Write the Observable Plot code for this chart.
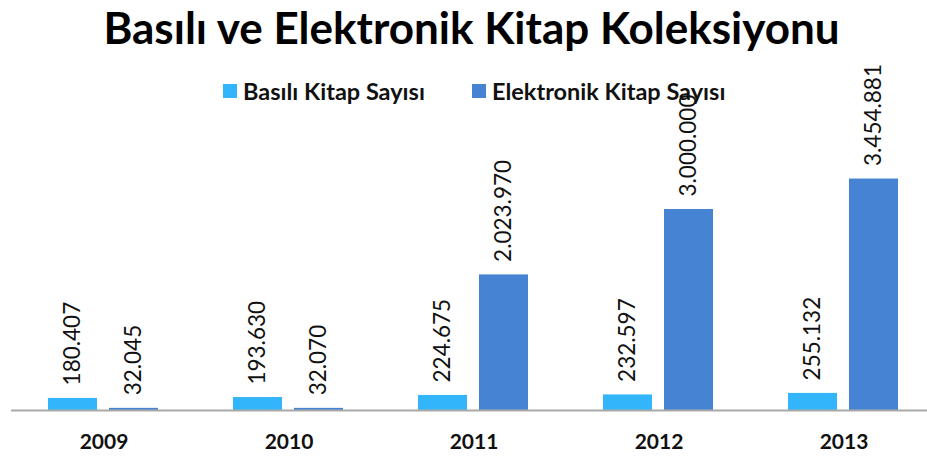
<!DOCTYPE html>
<html>
<head>
<meta charset="utf-8">
<script src="https://cdn.jsdelivr.net/npm/d3@7"></script>
<script src="https://cdn.jsdelivr.net/npm/@observablehq/plot@0.6"></script>
<style>
  html, body { margin: 0; padding: 0; background: #fff; }
  #wrap { position: relative; width: 927px; height: 461px; overflow: hidden; font-family: Lato, "Open Sans", sans-serif; }
  #title { position: absolute; left: 0; top: 3px; width: 927px; text-align: center; padding-left: 16px; box-sizing: border-box;
           font-size: 44px; font-weight: 700; color: #000; line-height: 48px; }
  #chart { position: absolute; left: 0; top: 58px; }
  #legend { position: absolute; left: 0; top: 78px; width: 927px; height: 26px; font-size: 23.5px; font-weight: 700; color: #111; }
  .item { position: absolute; top: 0; display: flex; align-items: center; height: 26px; }
  .sw { width: 14px; height: 14px; margin-right: 6px; }
</style>
</head>
<body>
<div id="wrap">
  <div id="title">Basılı ve Elektronik Kitap Koleksiyonu</div>
  <div id="chart"></div>
  <div id="legend"></div>
</div>
<script>
const years = ["2009", "2010", "2011", "2012", "2013"];
const basili = [180407, 193630, 224675, 232597, 255132];
const elektronik = [32045, 32070, 2023970, 3000000, 3454881];
const series = ["Basılı Kitap Sayısı", "Elektronik Kitap Sayısı"];
const colors = ["#33b5fb", "#4683d3"];

const data = [];
years.forEach((y, i) => {
  data.push({year: y, series: series[0], value: basili[i]});
  data.push({year: y, series: series[1], value: elektronik[i]});
});

const tr = d3.formatLocale({decimal: ",", thousands: ".", grouping: [3], currency: ["", " TL"]});
const fmt = tr.format(",d");

const chart = Plot.plot({
  width: 927,
  height: 403,
  marginLeft: 10,
  marginRight: -10,
  marginTop: 17,
  marginBottom: 51,
  style: {overflow: "visible", fontFamily: "Lato, 'Open Sans', sans-serif", background: "transparent"},
  fx: {domain: years, padding: 0, label: null, axis: null},
  x: {domain: series, paddingInner: 0.1935, paddingOuter: 0.592, axis: null},
  y: {domain: [0, 5000000], axis: null},
  color: {domain: series, range: colors},
  marks: [
    Plot.barY(data, {fx: "year", x: "series", y: "value", fill: "series"}),
    Plot.ruleY([0], {stroke: "#a9a9a9", strokeWidth: 2}),
    Plot.text(data, {fx: "year", x: "series", y: "value", text: d => fmt(d.value), rotate: -90,
      textAnchor: "start", lineAnchor: "middle", dy: -13, fontSize: 22.5, fill: "#111"}),
    Plot.axisFx({domain: years, anchor: "bottom", tickSize: 0, tickPadding: 24, fontSize: 21, fontWeight: "bold", fill: "#111", label: null})
  ]
});
document.getElementById("chart").appendChild(chart);

const legend = document.getElementById("legend");
const lx = [223, 472];
series.forEach((s, i) => {
  const it = document.createElement("div");
  it.className = "item";
  it.style.left = lx[i] + "px";
  const sw = document.createElement("span");
  sw.className = "sw";
  sw.style.background = colors[i];
  const t = document.createElement("span");
  t.textContent = s;
  it.appendChild(sw); it.appendChild(t);
  legend.appendChild(it);
});
</script>
</body>
</html>
